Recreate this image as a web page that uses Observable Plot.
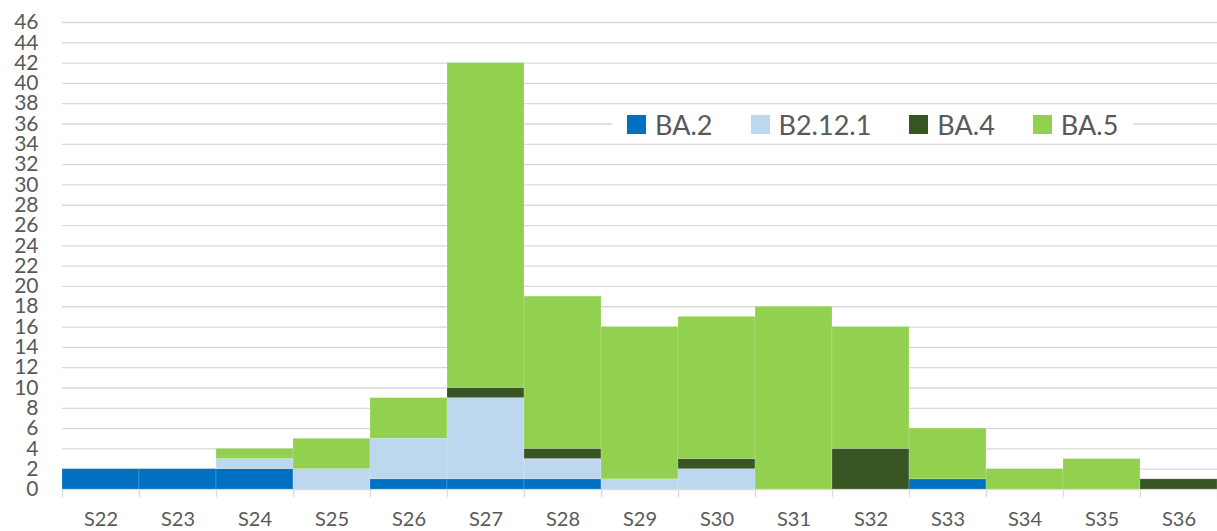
<!DOCTYPE html>
<html><head><meta charset="utf-8">
<script src="https://cdn.jsdelivr.net/npm/d3@7"></script>
<script src="https://cdn.jsdelivr.net/npm/@observablehq/plot@0.6"></script>
<style>
body{margin:0;background:#fff;}
#wrap{position:relative;width:1217px;height:531px;overflow:hidden;}
#legend{position:absolute;left:612px;top:107px;height:35px;padding:0 15px;background:#fff;display:flex;align-items:center;gap:38px;font-family:Lato,sans-serif;font-size:27px;color:#595959;}
.item{display:flex;align-items:center;gap:9px;}
.sw{width:19px;height:19px;display:inline-block;}
</style></head><body><div id="wrap"></div>
<script>
const weeks = ["S22","S23","S24","S25","S26","S27","S28","S29","S30","S31","S32","S33","S34","S35","S36"];
const series = ["BA.2","B2.12.1","BA.4","BA.5"];
const colors = ["#0070C0","#BDD7EE","#375623","#92D050"];
const ba2   = [2,2,2,0,1,1,1,0,0,0,0,1,0,0,0];
const b2121 = [0,0,1,2,4,8,2,1,2,0,0,0,0,0,0];
const ba4   = [0,0,0,0,0,1,1,0,1,0,4,0,0,0,1];
const ba5   = [0,0,1,3,4,32,15,15,14,18,12,5,2,3,0];
const yTicks = d3.range(0, 47, 2);

const values = [ba2, b2121, ba4, ba5];
const rows = [];
weeks.forEach((w, i) => {
  let acc = 0;
  values.forEach((arr, s) => {
    const v = arr[i];
    if (v > 0) rows.push({i, series: series[s], y1: acc, y2: acc + v});
    acc += v;
  });
});

const chart = Plot.plot({
  width: 1217, height: 531,
  marginLeft: 62, marginRight: 0, marginTop: 22, marginBottom: 42,
  style: {fontFamily: "Lato, sans-serif", color: "#595959", background: "#fff"},
  x: {domain: [0, weeks.length]},
  y: {domain: [0, 46]},
  color: {domain: series, range: colors},
  marks: [
    Plot.ruleY(yTicks, {stroke: "#d9d9d9", strokeWidth: 1.3}),
    Plot.rect(rows, {x1: d => d.i, x2: d => d.i + 1, y1: "y1", y2: "y2", fill: "series", stroke: "#fff", strokeWidth: 0.5, strokeOpacity: 0.35}),
    Plot.axisY({ticks: yTicks, tickSize: 0, tickPadding: 24, fontSize: 21, label: null}),
    Plot.axisX({ticks: d3.range(weeks.length + 1), tickFormat: () => "", tickSize: 8, stroke: "#d9d9d9", strokeWidth: 1.3, label: null}),
    Plot.axisX({ticks: weeks.map((_, i) => i + 0.5), tickFormat: v => weeks[Math.round(v - 0.5)], tickSize: 0, tickPadding: 22, fontSize: 20, label: null})
  ]
});
const wrap = document.getElementById("wrap");
wrap.appendChild(chart);

const legend = document.createElement("div");
legend.id = "legend";
series.forEach((s, k) => {
  const it = document.createElement("div");
  it.className = "item";
  it.innerHTML = `<span class="sw" style="background:${colors[k]}"></span><span>${s}</span>`;
  legend.appendChild(it);
});
wrap.appendChild(legend);
</script></body></html>
